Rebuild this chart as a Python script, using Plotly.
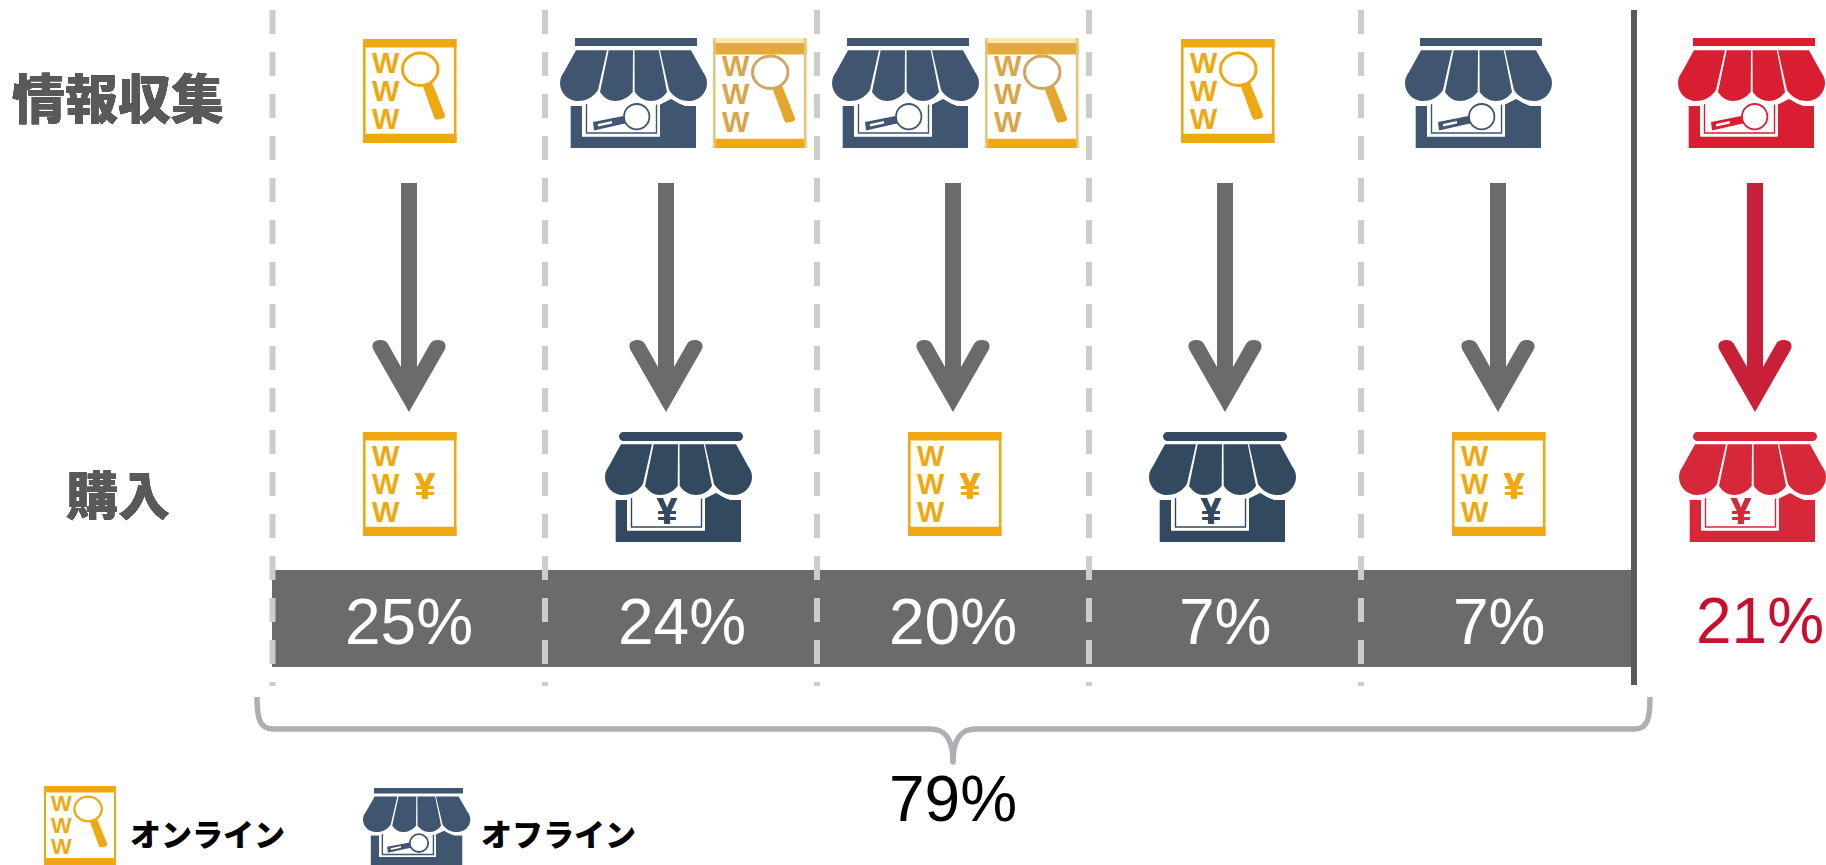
import plotly.graph_objects as go

# ---------- data ----------
row_labels = ["情報収集", "購入"]
info_channels = [["online"], ["offline", "online"], ["offline", "online"], ["online"], ["offline"], ["offline"]]
purchase_channels = ["online", "offline", "online", "offline", "online", "offline"]
shares = [25, 24, 20, 7, 7, 21]
main_total = 79
legend_labels = {"online": "オンライン", "offline": "オフライン"}

# ---------- layout ----------
W, H = 1826, 865
NAVY, NAVY_SOFT = "#33495F", "#3F5570"
RED, RED_SOFT = "#D62839", "#D81E30"
ORANGE = "#EEA912"
GREY, DARK, DASH, BRACE = "#6B6B6B", "#595959", "#CCCCCC", "#AEAFB2"
SANS, CJK = "Liberation Sans", "Noto Sans CJK JP"

arrow_x = [409, 666, 953, 1225, 1498, 1755]
pct_x = [409, 682, 953, 1225, 1499, 1760]
divider_x = [272.5, 545, 817, 1089, 1361]
info_x = [[363], [560, 713], [832, 985], [1181], [1405], [1678]]
buy_x = [363, 605, 908, 1149, 1452, 1679]

shapes, notes = [], []


def path(cmds, ox, oy, sx=1.0, sy=1.0):
    out = []
    for c in cmds:
        op, pts = c[0], c[1:]
        coords = " ".join(f"{ox + sx * pts[i]:.2f},{oy + sy * pts[i + 1]:.2f}" for i in range(0, len(pts), 2))
        out.append(f"{op} {coords}".strip())
    return " ".join(out)


def add_path(d, fill=None, line=None, lw=0, opacity=1.0):
    s = dict(type="path", path=d, xref="x", yref="y", layer="above", opacity=opacity,
             line=dict(width=lw, color=line or "rgba(0,0,0,0)"))
    if fill:
        s["fillcolor"] = fill
    shapes.append(s)


def rect(x0, y0, x1, y1, fill):
    shapes.append(dict(type="rect", x0=x0, y0=y0, x1=x1, y1=y1, xref="x", yref="y", layer="above",
                       fillcolor=fill, line=dict(width=0)))


def text(x, y, s, size, color, family=SANS, weight=400, thicken=0):
    font = dict(size=size, color=color, family=family, weight=weight)
    if thicken:
        t = thicken
        font["shadow"] = f"{t}px 0 0 {color}, -{t}px 0 0 {color}, 0 {t}px 0 {color}, 0 -{t}px 0 {color}"
    notes.append(dict(x=x, y=y, xref="x", yref="y", text=s, showarrow=False, xanchor="center", yanchor="middle",
                      font=font, borderpad=0, align="center"))


def circle(cx, cy, r, fill, line=None, lw=0):
    shapes.append(dict(type="circle", x0=cx - r, x1=cx + r, y0=cy - r, y1=cy + r, xref="x", yref="y", layer="above",
                       fillcolor=fill, line=dict(width=lw, color=line or "rgba(0,0,0,0)")))


SEGMENTS = [
    [("M", 16, 12.3), ("L", 47, 12.3), ("L", 38, 52), ("C", 33, 60, 25, 63, 18, 63), ("C", 8, 63, 0, 55, 0, 45),
     ("C", 0, 40, 2, 37, 4, 34), ("Z",)],
    [("M", 48.7, 12.3), ("L", 73, 12.3), ("L", 72.7, 54), ("C", 68, 60, 61, 63, 55, 63), ("C", 49, 63, 44, 60, 40, 54), ("Z",)],
    [("M", 74.5, 12.3), ("L", 98.8, 12.3), ("L", 107, 54), ("C", 103, 60, 97, 63, 91, 63), ("C", 85, 63, 79, 60, 74.7, 54), ("Z",)],
    [("M", 131, 12.3), ("L", 100, 12.3), ("L", 109, 52), ("C", 114, 60, 122, 63, 129, 63), ("C", 139, 63, 147, 55, 147, 45),
     ("C", 147, 40, 145, 37, 143, 34), ("Z",)],
]


def store(ox, oy, color, kind, sx=1.0, sy=1.0):
    X = lambda v: ox + sx * v
    Y = lambda v: oy + sy * v
    add_path(path([("M", 10.7, 68), ("L", 97, 68), ("L", 111, 61), ("L", 125, 68), ("L", 136, 68), ("L", 136, 110),
                   ("L", 10.7, 110), ("Z",)], ox, oy, sx, sy), fill=color)
    rect(X(22), Y(60), X(100), Y(98.7), "#FFFFFF")
    add_path(path([("M", 26.5, 62), ("L", 26.5, 95), ("L", 96.5, 95), ("L", 96.5, 62)], ox, oy, sx, sy),
             line=color, lw=1.4)
    for seg in SEGMENTS:
        add_path(path(seg, ox, oy + 4.5 * sy, sx, sy), fill="#FFFFFF")
    for seg in SEGMENTS:
        add_path(path(seg, ox, oy, sx, sy), fill=color)
    if kind == "search":
        rect(X(15), Y(0), X(137), Y(8), color)
        add_path(path([("M", 33, 84), ("L", 66, 77.5), ("L", 67, 85), ("L", 34, 92.5), ("Z",)], ox, oy, sx, sy), fill=color)
        add_path(path([("M", 38, 86), ("L", 52, 83), ("L", 52, 85.5), ("L", 38, 88.5), ("Z",)], ox, oy, sx, sy), fill="#FFFFFF")
        shapes.append(dict(type="circle", x0=X(64), x1=X(89.4), y0=Y(66), y1=Y(91.4), xref="x", yref="y", layer="above",
                           fillcolor="#FFFFFF", line=dict(width=1.8, color=color)))
    else:
        add_path(path([("M", 14, 4.5), ("C", 14, 2, 16, 0, 18.5, 0), ("L", 133.5, 0), ("C", 136, 0, 138, 2, 138, 4.5),
                       ("C", 138, 7, 136, 9, 133.5, 9), ("L", 18.5, 9), ("C", 16, 9, 14, 7, 14, 4.5), ("Z",)], ox, oy, sx, sy),
                 fill=color)
        text(X(61.5), Y(79), "¥", 36, color, SANS, 700, thicken=0.4)


def www(ox, oy, kind, sx=1.0, sy=1.0, soft=False, font=29):
    X = lambda v: ox + sx * v
    Y = lambda v: oy + sy * v
    dy = 4 if soft else 0
    h = 110 if soft else 104
    col = "#DDA63A" if soft else ORANGE
    lw = 2.6 * sx
    if soft:
        rect(X(0), Y(0), X(93.5), Y(5), "#FBE7B4")
    rect(X(0), Y(dy + (1 if soft else 0)), X(93.5), Y(dy + 8.4 + (4 if soft else 0)), ORANGE if not soft else "#E3A93A")
    rect(X(0), Y(h - 9.3), X(93.5), Y(h), ORANGE)
    rect(X(0), Y(0), X(0) + lw, Y(h), "#E9C477" if soft else col)
    rect(X(93.5) - lw, Y(0), X(93.5), Y(h), "#E9C477" if soft else col)
    for i in range(3):
        text(X(23), Y(23.5 + dy + 28.2 * i), "W", font, "#D9A54A" if soft else col, SANS, 700)
    if kind == "search":
        add_path(path([("M", 59, 45), ("L", 68, 41), ("L", 82, 76), ("C", 82.5, 78, 81, 79, 80, 79.5), ("L", 75, 80.5),
                       ("C", 73, 81, 72, 80, 71, 78), ("Z",)], ox, oy + dy * sy, sx, sy), fill="#E5A62B" if soft else col)
        shapes.append(dict(type="circle", x0=X(39.5), x1=X(75), y0=Y(14 + dy), y1=Y(46.5 + dy), xref="x", yref="y",
                           layer="above", fillcolor="#FFFFFF",
                           line=dict(width=3 * sx, color="#CFA765" if soft else col)))
    else:
        text(X(62), Y(54.7), "¥", 36, col, SANS, 700, thicken=0.4)


def arrow(x, color):
    tip = 412
    add_path(path([("M", 0, 0), ("L", -35.5, -62), ("C", -38.5, -68, -35, -72, -28.5, -72), ("C", -25, -72, -22.5, -70.5, -21, -68),
                   ("L", -8, -45), ("L", -8, -229), ("L", 8, -229), ("L", 8, -45), ("L", 21, -68),
                   ("C", 22.5, -70.5, 25, -72, 28.5, -72), ("C", 35, -72, 38.5, -68, 35.5, -62), ("Z",)], x, tip), fill=color)


# ---------- build ----------
rect(272, 570, 1632, 667, GREY)
for x in divider_x:
    shapes.append(dict(type="line", x0=x, x1=x, y0=10, y1=686, xref="x", yref="y", layer="above",
                       line=dict(width=6, color=DASH, dash="24px,18px")))
shapes.append(dict(type="line", x0=1634, x1=1634, y0=10, y1=685, xref="x", yref="y", layer="above",
                   line=dict(width=6, color=DARK)))

for col, chans in enumerate(info_channels):
    red = col == len(info_channels) - 1
    for ch, x in zip(chans, info_x[col]):
        if ch == "online":
            if len(chans) > 1:
                www(x, 38, "search", soft=True)
            else:
                www(x, 39, "search")
        else:
            store(x, 38, RED_SOFT if red else NAVY_SOFT, "search")

for col, ch in enumerate(purchase_channels):
    red = col == len(purchase_channels) - 1
    if ch == "online":
        www(buy_x[col], 432, "yen")
    else:
        store(buy_x[col], 432, RED if red else NAVY, "yen")

for col, x in enumerate(arrow_x):
    arrow(x, "#C9203A" if col == len(arrow_x) - 1 else GREY)

for col, v in enumerate(shares):
    red = col == len(shares) - 1
    text(pct_x[col], 620.5 if red else 622, f"{v}%", 64, "#C8102E" if red else "#FFFFFF")

# brace
add_path("M 257 697 C 257 717 259 729 273 729 L 930 729 C 945 729 953 738 953 762 "
         "C 953 738 961 729 976 729 L 1635 729 C 1648 729 1650 717 1650 697",
         line=BRACE, lw=5.5)
circle(953, 762, 2.7, BRACE)
text(953, 799, f"{main_total}%", 64, "#000000")

text(117.5, 96, row_labels[0], 53, DARK, CJK, 900, thicken=0.2)
text(118, 492.5, row_labels[1], 52, DARK, CJK, 900, thicken=0.2)

# legend
www(44, 786, "search", sx=0.77, sy=0.76, font=22)
store(363, 788, NAVY_SOFT, "search", sx=0.73, sy=0.70)
text(207, 832, legend_labels["online"], 31, "#000000", CJK, 900)
text(558, 832, legend_labels["offline"], 31, "#000000", CJK, 900)

fig = go.Figure()
fig.update_layout(
    width=W, height=H, margin=dict(l=0, r=0, t=0, b=0, pad=0),
    paper_bgcolor="#FFFFFF", plot_bgcolor="#FFFFFF", showlegend=False,
    xaxis=dict(range=[0, W], visible=False, fixedrange=True),
    yaxis=dict(range=[H, 0], visible=False, fixedrange=True),
    shapes=shapes, annotations=notes,
)
fig.write_html("out.html", config={"displayModeBar": False},
               post_script="document.body.style.margin='0';document.body.style.overflow='hidden';")
